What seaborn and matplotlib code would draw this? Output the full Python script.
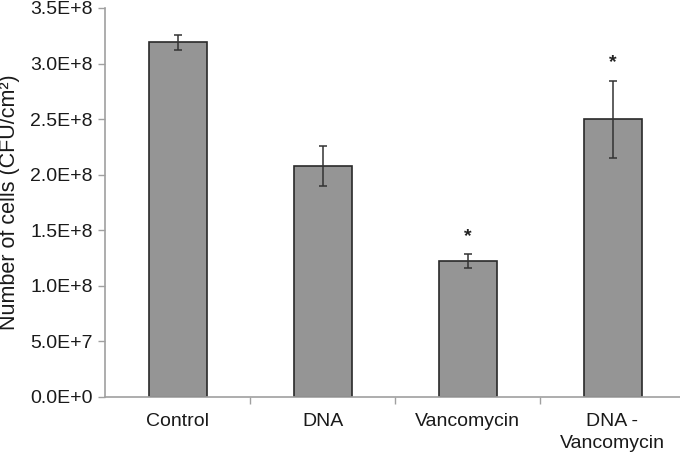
import matplotlib
matplotlib.use("Agg")
import matplotlib.pyplot as plt
import seaborn as sns
import pandas as pd
from matplotlib.ticker import FixedLocator, FuncFormatter

categories = ["Control", "DNA", "Vancomycin", "DNA -\nVancomycin"]
values = [3.19e8, 2.08e8, 1.22e8, 2.50e8]
errors = [0.07e8, 0.18e8, 0.063e8, 0.347e8]
marks = ["", "", "*", "*"]
yticks = [0, 5e7, 1e8, 1.5e8, 2e8, 2.5e8, 3e8, 3.5e8]

sns.set_theme(style="white")
plt.rcParams['font.family'] = ['Liberation Sans', 'DejaVu Sans']

df = pd.DataFrame({"cat": categories, "val": values})

fig = plt.figure(figsize=(6.8, 4.54), dpi=100)
ax = fig.add_axes([105/680, 1 - 396.7/454, 580/680, 388.7/454])

sns.barplot(data=df, x="cat", y="val", color="#959595", edgecolor="#2a2a2a",
            linewidth=1.2, width=0.4, saturation=1, errorbar=None, ax=ax)
for b in ax.patches:
    b.set_facecolor("#959595")

xs = list(range(len(categories)))
ax.errorbar(xs, values, yerr=errors, fmt="none", ecolor="#333333",
            elinewidth=1.1, capsize=3.2, capthick=1.1)
for x, v, e, m in zip(xs, values, errors, marks):
    if m:
        ax.text(x, v + e + 0.085e8, m, ha="center", va="bottom", fontsize=14,
                fontweight="bold", color="#222222")

ax.set_xlim(-0.5, 3.5)
ax.set_ylim(0, 3.5e8)
ax.set_yticks(yticks)

def fmt(v, p):
    if v == 0:
        return "0.0E+0"
    exp = int(f"{v:e}".split("e")[1])
    return "{:.1f}E+{:d}".format(v / 10 ** exp, exp)

ax.yaxis.set_major_formatter(FuncFormatter(fmt))
ax.set_xlabel("")
ax.set_ylabel("Number of cells (CFU/cm²)", fontsize=15.5, color="#1a1a1a", labelpad=7)

ax.xaxis.set_minor_locator(FixedLocator([0.5, 1.5, 2.5, 3.5]))
ax.tick_params(axis="x", which="major", length=0, pad=12, labelsize=14, colors="#1a1a1a")
ax.tick_params(axis="x", which="minor", bottom=True, length=5, width=1, color="#a0a0a0", direction="out")
ax.tick_params(axis="y", which="major", left=True, length=5, width=1, color="#a0a0a0",
               direction="out", pad=4, labelsize=14, labelcolor="#1a1a1a")
for lab in ax.get_xticklabels():
    lab.set_linespacing(1.35)

for s in ["top", "right"]:
    ax.spines[s].set_visible(False)
for s in ["left", "bottom"]:
    ax.spines[s].set_color("#a0a0a0")
    ax.spines[s].set_linewidth(1.2)

fig.savefig("out.png", dpi=100)
